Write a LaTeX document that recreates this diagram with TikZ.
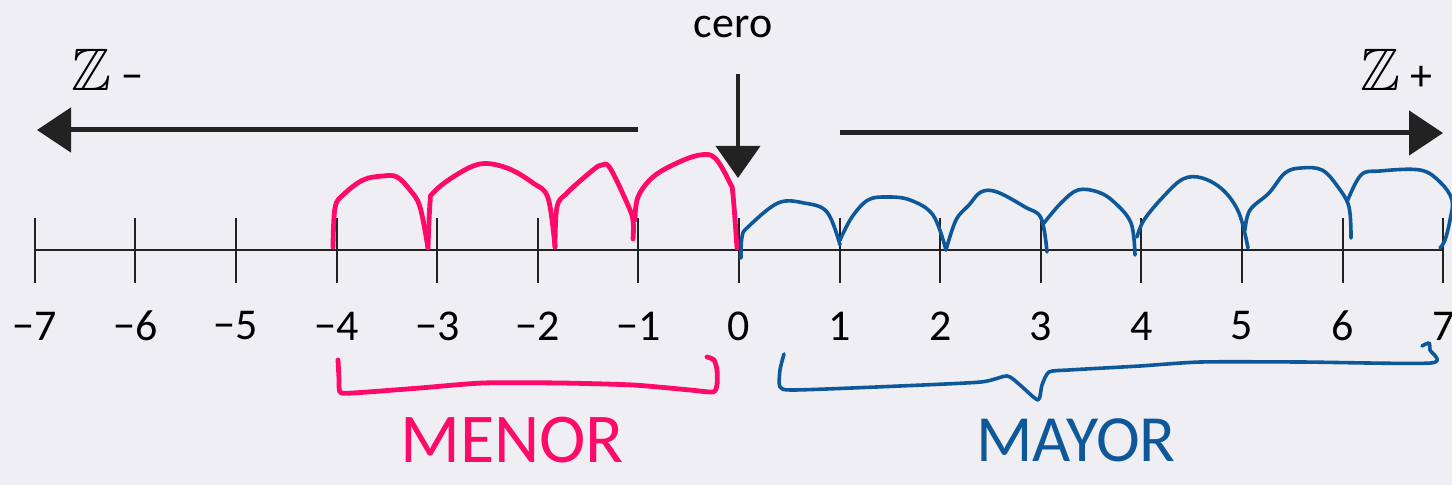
\documentclass[tikz,border=0pt]{standalone}
\usepackage{amssymb}
\usepackage{fontspec}
\setmainfont{Carlito}
\usetikzlibrary{arrows.meta}
\definecolor{penpink}{HTML}{FF0A68}
\definecolor{penblue}{HTML}{0E5899}
\definecolor{ink}{HTML}{222222}
\definecolor{paper}{HTML}{EFEFF3}

\begin{document}
\begin{tikzpicture}[x=0.5pt, y=-0.5pt,
  every node/.style={font=\fontsize{22}{26}\selectfont, inner sep=0pt},
  bigarrow/.style={ink, line width=2.5pt, -{Triangle[length=17pt, width=22pt]}},
  tickmark/.style={ink, line width=1pt},
  pinkpen/.style={penpink, line width=2.4pt, line cap=round, line join=round},
  bluepen/.style={penblue, line width=1.8pt, line cap=round, line join=round}]
  \fill[paper] (0,0) rectangle (1452,485);
  \useasboundingbox (0,0) rectangle (1452,485);

  % number line
  \foreach \n in {-7,...,7} {
    \coordinate (t\n) at ({739+100.6*\n},250);
    \draw[tickmark] ({739+100.6*\n},218) -- ++(0,65);
    \node (n\n) at ({739+100.6*\n},326) {\ifnum\n<0 −\number-\n\else\n\fi};
  }
  \draw[tickmark] (t-7) -- (t7);

  % labels and arrows on top
  \node (cero) at (733,27) {cero};
  \node (zneg) at (107,70) {{\fontsize{30}{34}\selectfont$\mathbb{Z}$} −};
  \node (zpos) at (1396,70) {{\fontsize{30}{34}\selectfont$\mathbb{Z}$} +};
  \coordinate (negStart) at (638,130);
  \coordinate (negEnd) at (37,130);
  \coordinate (posStart) at (840,133);
  \coordinate (posEnd) at (1443,133);
  \coordinate (ceroTop) at (738,74);
  \coordinate (ceroTip) at (738,178);
  \draw[bigarrow] (negStart) -- (negEnd);
  \draw[bigarrow] (posStart) -- (posEnd);
  \draw[bigarrow, line width=2pt, -{Triangle[length=16pt, width=22pt]}] (ceroTop) -- (ceroTip);

  % pink hops (menor)
  \draw[pinkpen] plot[smooth, tension=0.6] coordinates {(333,247) (335,208) (343,195) (363,180) (383,176) (397,177) (410,190) (420,207) (428,248)};
  \draw[pinkpen] plot[smooth, tension=0.6] coordinates {(428,248) (430,203) (433,193) (453,177) (480,164) (507,168) (533,183) (548,198) (555,247)};
  \draw[pinkpen] plot[smooth, tension=0.6] coordinates {(555,247) (557,207) (567,193) (593,170) (602,165) (610,168) (627,203) (633,220) (633,239)};
  \draw[pinkpen] plot[smooth, tension=0.6] coordinates {(635,220) (638,197) (653,177) (677,163) (700,155) (715,158) (730,183) (733,195) (737,248)};

  % blue hops (mayor)
  \draw[bluepen] plot[smooth, tension=0.6] coordinates {(741,258) (742,237) (748,227) (778,203) (804,203) (827,212) (840,245)};
  \draw[bluepen] plot[smooth, tension=0.6] coordinates {(840,240) (852,217) (868,200) (887,197) (910,200) (933,215) (946,250)};
  \draw[bluepen] plot[smooth, tension=0.6] coordinates {(946,250) (956,220) (969,205) (981,192) (997,192) (1025,207) (1041,218) (1047,252)};
  \draw[bluepen] plot[smooth, tension=0.6] coordinates {(1044,223) (1061,203) (1078,190) (1098,192) (1114,202) (1131,223) (1135,255)};
  \draw[bluepen] plot[smooth, tension=0.6] coordinates {(1137,237) (1144,220) (1163,197) (1183,179) (1202,178) (1223,190) (1239,213) (1248,248)};
  \draw[bluepen] plot[smooth, tension=0.6] coordinates {(1245,230) (1250,210) (1269,193) (1285,173) (1301,168) (1322,170) (1338,187) (1349,207) (1351,238)};
  \draw[bluepen] plot[smooth, tension=0.6] coordinates {(1347,202) (1361,175) (1380,171) (1420,170) (1440,182) (1452,200) (1450,220) (1445,240) (1440,248)};

  % braces
  \draw[pinkpen] plot[smooth, tension=0.4] coordinates {(338,360) (339,378) (340,392) (353,393) (420,388) (483,383) (560,383) (633,385) (690,390) (713,392) (717,385) (717,370) (714,360) (707,357)};
  \draw[bluepen] plot[smooth, tension=0.4] coordinates {(784,354) (780,370) (780,387) (795,390) (900,386) (981,382) (1007,376) (1020,385) (1038,400) (1042,385) (1049,372) (1069,370) (1140,366) (1201,362) (1300,362) (1431,363) (1430,350) (1429,343) (1422,346)};

  % handwritten labels
  \node[penpink, font=\fontsize{35}{40}\selectfont] (menor) at (512,440) {MENOR};
  \node[penblue, font=\fontsize{33}{38}\selectfont] (mayor) at (1076,440) {MAYOR};
\end{tikzpicture}
\end{document}
